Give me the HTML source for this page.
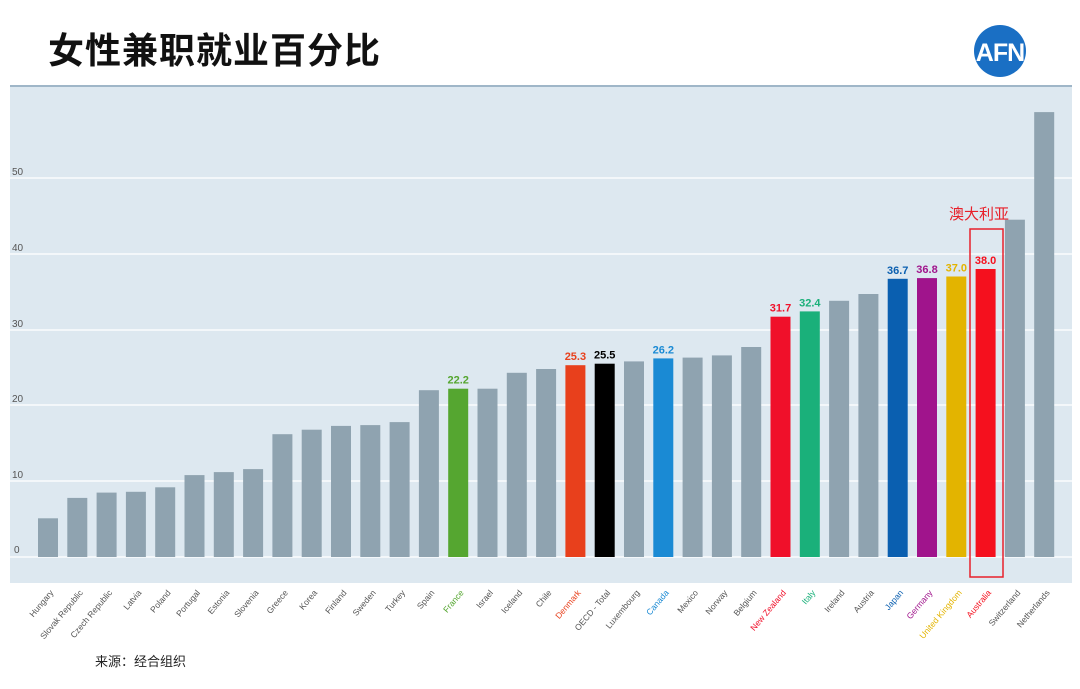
<!DOCTYPE html>
<html><head><meta charset="utf-8"><style>
body{margin:0;width:1080px;height:684px;background:#fff;overflow:hidden;font-family:"Liberation Sans","Noto Sans CJK SC",sans-serif}
</style></head><body>
<svg width="1080" height="684" viewBox="0 0 1080 684" xmlns="http://www.w3.org/2000/svg">
<text x="48" y="63" font-size="36" font-weight="bold" letter-spacing="1" fill="#111" font-family="Noto Sans CJK SC, sans-serif">女性兼职就业百分比</text>
<circle cx="1000" cy="51" r="26" fill="#1a6fc4"/>
<text x="1000" y="61" font-size="25" font-weight="bold" fill="#fff" text-anchor="middle" letter-spacing="-1" font-family="Liberation Sans, sans-serif">AFN</text>
<rect x="10" y="85" width="1062" height="498" fill="#dde8f0"/>
<line x1="10" y1="86" x2="1072" y2="86" stroke="#9fb6c8" stroke-width="2"/>
<g stroke="#f3f7fa" stroke-width="2">
<line x1="10" y1="557" x2="1072" y2="557"/><line x1="10" y1="481" x2="1072" y2="481"/>
<line x1="10" y1="405" x2="1072" y2="405"/><line x1="10" y1="330" x2="1072" y2="330"/>
<line x1="10" y1="254" x2="1072" y2="254"/><line x1="10" y1="178" x2="1072" y2="178"/>
</g>
<g font-size="10" fill="#555">
<text x="14" y="553">0</text><text x="12" y="478">10</text><text x="12" y="402">20</text>
<text x="12" y="327">30</text><text x="12" y="251">40</text><text x="12" y="175">50</text>
</g>
<g id="bars"></g>
<rect x="970" y="229" width="33" height="348" fill="none" stroke="#e8202a" stroke-width="1.5"/>
<text x="979" y="219" font-size="15" fill="#e8202a" text-anchor="middle" font-family="Noto Sans CJK SC, sans-serif">澳大利亚</text>
<text x="95" y="666" font-size="13" fill="#222" font-family="Noto Sans CJK SC, sans-serif">来源：经合组织</text>
</svg>
<script>
var d=[["Hungary",5.1],["Slovak Republic",7.8],["Czech Republic",8.5],["Latvia",8.6],["Poland",9.2],["Portugal",10.8],["Estonia",11.2],["Slovenia",11.6],["Greece",16.2],["Korea",16.8],["Finland",17.3],["Sweden",17.4],["Turkey",17.8],["Spain",22.0],["France",22.2,"#55a630",1],["Israel",22.2],["Iceland",24.3],["Chile",24.8],["Denmark",25.3,"#e8401c",1],["OECD - Total",25.5,"#000",1],["Luxembourg",25.8],["Canada",26.2,"#1a8ad4",1],["Mexico",26.3],["Norway",26.6],["Belgium",27.7],["New Zealand",31.7,"#f0102a",1],["Italy",32.4,"#1ab07a",1],["Ireland",33.8],["Austria",34.7],["Japan",36.7,"#0a5fb0",1],["Germany",36.8,"#a0148c",1],["United Kingdom",37.0,"#e3b400",1],["Australia",38.0,"#f5101e",1],["Switzerland",44.5],["Netherlands",58.7]];
var g=document.getElementById("bars"),s="";
d.forEach(function(e,i){var x=38+i*29.3,h=e[1]*7.58,y=557-h,c=e[2]||"#8fa3b0";
s+='<rect x="'+x.toFixed(1)+'" y="'+y.toFixed(1)+'" width="20" height="'+h.toFixed(1)+'" fill="'+c+'"/>';
if(e[3])s+='<text x="'+(x+10).toFixed(1)+'" y="'+(y-5).toFixed(1)+'" font-size="11" font-weight="bold" fill="'+c+'" text-anchor="middle">'+e[1].toFixed(1)+'</text>';
var lc=e[2]&&e[0]!="OECD - Total"?e[2]:"#555";
s+='<text transform="translate('+(x+16).toFixed(1)+',593) rotate(-50)" font-size="8.5" fill="'+lc+'" text-anchor="end">'+e[0]+'</text>';});
g.innerHTML=s;
</script>
</body></html>
